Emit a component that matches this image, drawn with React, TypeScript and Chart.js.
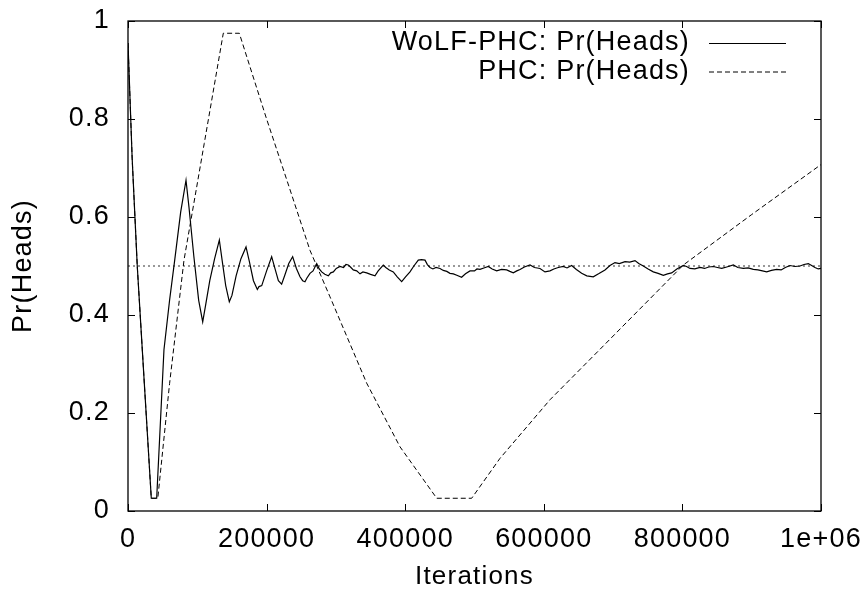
import React, { useEffect, useRef } from 'react';
import { Chart, registerables } from 'chart.js';

Chart.register(...registerables);

const FONT = '"Liberation Sans", Arial, Helvetica, sans-serif';
const LETTER_SPACING = '1.2px';

// WoLF-PHC: Pr(Heads)
const wolfIter = [
  0, 6000, 13400, 24000, 33600, 41400, 51900, 60000, 67400, 76000,
  83700, 88000, 95000, 102000, 107800, 112000, 118000, 125000, 131800, 136000,
  141000, 146200, 150000, 156000, 163000, 170300, 175000, 181000, 186600, 189000,
  193000, 200000, 207300, 212000, 217000, 221700, 226000, 232000, 237600, 243000,
  248200, 252000, 255400, 258000, 262600, 267000, 272300, 276000, 279500, 284000,
  289100, 292500, 296300, 300500, 305900, 311000, 314500, 317900, 321000, 325100,
  330000, 334800, 339000, 344400, 350000, 356400, 361000, 368400, 372000, 377000,
  382800, 388500, 394900, 400500, 406900, 412500, 418900, 423500, 428600, 432000,
  435800, 440000, 444500, 450200, 455000, 460000, 464600, 469500, 474500, 481400,
  487000, 493500, 500000, 503500, 507900, 513500, 519900, 525500, 532000, 539000,
  546500, 551000, 556000, 561000, 565700, 572000, 580100, 586500, 594500, 601700,
  608900, 614500, 620900, 628000, 633500, 640200, 647000, 654600, 662000, 671400,
  679000, 688300, 695500, 702700, 709000, 717200, 724000, 731600, 737000, 743600,
  750500, 758000, 765000, 772500, 778500, 784500, 792000, 801300, 806000, 811000,
  818000, 825400, 832000, 838000, 844600, 850500, 856700, 864000, 873500, 880000,
  887900, 895000, 902300, 909000, 915500, 921600, 928500, 936000, 942500, 948500,
  955300, 962500, 969700, 975500, 981700, 986500, 991300, 996000, 1000000,
];
const wolfProb = [
  0.955, 0.72, 0.499, 0.25, 0.026, 0.026, 0.329, 0.43, 0.512, 0.61,
  0.675, 0.62, 0.52, 0.43, 0.386, 0.42, 0.47, 0.515, 0.553, 0.51,
  0.46, 0.427, 0.44, 0.48, 0.515, 0.539, 0.51, 0.47, 0.452, 0.458,
  0.46, 0.49, 0.519, 0.495, 0.47, 0.463, 0.48, 0.505, 0.519, 0.495,
  0.478, 0.47, 0.468, 0.475, 0.485, 0.49, 0.505, 0.494, 0.488, 0.483,
  0.48, 0.486, 0.488, 0.495, 0.499, 0.497, 0.503, 0.502, 0.498, 0.492,
  0.49, 0.484, 0.488, 0.486, 0.483, 0.48, 0.49, 0.502, 0.497, 0.492,
  0.488, 0.478, 0.468, 0.478, 0.488, 0.5, 0.512, 0.513, 0.512, 0.503,
  0.497, 0.494, 0.497, 0.495, 0.491, 0.489, 0.485, 0.484, 0.481, 0.477,
  0.484, 0.49, 0.49, 0.494, 0.493, 0.496, 0.499, 0.494, 0.49, 0.493,
  0.492, 0.489, 0.486, 0.49, 0.493, 0.498, 0.502, 0.497, 0.495, 0.488,
  0.49, 0.494, 0.497, 0.499, 0.496, 0.501, 0.493, 0.485, 0.48, 0.478,
  0.484, 0.492, 0.501, 0.507, 0.505, 0.509, 0.508, 0.511, 0.505, 0.5,
  0.494, 0.488, 0.485, 0.481, 0.484, 0.486, 0.494, 0.501, 0.499, 0.495,
  0.494, 0.497, 0.495, 0.498, 0.499, 0.497, 0.495, 0.498, 0.502, 0.497,
  0.495, 0.496, 0.493, 0.492, 0.49, 0.488, 0.491, 0.493, 0.492, 0.497,
  0.501, 0.499, 0.5, 0.503, 0.505, 0.501, 0.497, 0.494, 0.495,
];

// PHC: Pr(Heads)
const phcIter = [
  0, 6000, 13400, 24000, 33600, 43000, 60000, 80800, 110000, 137500,
  160600, 200000, 230000, 262600, 291500, 344400, 392500, 445500, 495900, 536800,
  608900, 681100, 801300, 900000, 1000000,
];
const phcProb = [
  0.955, 0.72, 0.499, 0.25, 0.026, 0.026, 0.26, 0.512, 0.75, 0.975,
  0.975, 0.8, 0.672, 0.532, 0.437, 0.261, 0.131, 0.026, 0.026, 0.1075,
  0.227, 0.33, 0.502, 0.605, 0.707,
];

// Equilibrium reference line
const nashIter = [0, 1000000];
const nashProb = [0.5, 0.5];

const xTickLabels = ['0', '200000', '400000', '600000', '800000', '1e+06'];
const yTickLabels = ['0', '0.2', '0.4', '0.6', '0.8', '1'];

const seriesLabels = ['WoLF-PHC: Pr(Heads)', 'PHC: Pr(Heads)'];

const toPoints = (xs: number[], ys: number[]) => xs.map((x, i) => ({ x, y: ys[i] }));

const spacingPlugin = {
  id: 'letterSpacing',
  beforeDraw(chart: any) {
    try {
      (chart.ctx as any).letterSpacing = LETTER_SPACING;
    } catch (e) {
      /* ignore */
    }
  },
};

const framePlugin = {
  id: 'gnuplotFrame',
  afterDraw(chart: any) {
    const { ctx, chartArea, scales } = chart;
    const { left, right, top, bottom } = chartArea;
    ctx.save();
    ctx.strokeStyle = '#000';
    ctx.lineWidth = 1.3;
    ctx.setLineDash([]);
    ctx.strokeRect(left, top, right - left, bottom - top);
    const tl = 7;
    ctx.beginPath();
    scales.x.ticks.forEach((t: any) => {
      const px = Math.round(scales.x.getPixelForValue(t.value)) + 0.5;
      ctx.moveTo(px, bottom);
      ctx.lineTo(px, bottom - tl);
      ctx.moveTo(px, top);
      ctx.lineTo(px, top + tl);
    });
    scales.y.ticks.forEach((t: any) => {
      const py = Math.round(scales.y.getPixelForValue(t.value)) + 0.5;
      ctx.moveTo(left, py);
      ctx.lineTo(left + tl, py);
      ctx.moveTo(right, py);
      ctx.lineTo(right - tl, py);
    });
    ctx.lineWidth = 1;
    ctx.stroke();

    // gnuplot-style key: text right-aligned, line sample to the right
    const textRight = 690;
    const lineStart = 709;
    const lineEnd = 786;
    const rowY = [43, 71.5];
    ctx.font = `27px ${FONT}`;
    ctx.fillStyle = '#000';
    ctx.textAlign = 'right';
    ctx.textBaseline = 'middle';
    chart.data.datasets.forEach((ds: any, i: number) => {
      if (!ds.label || i >= rowY.length) return;
      const y = rowY[i];
      ctx.fillText(ds.label, textRight, y);
      ctx.beginPath();
      ctx.strokeStyle = ds.borderColor;
      ctx.lineWidth = ds.borderWidth;
      ctx.setLineDash(ds.borderDash || []);
      ctx.moveTo(lineStart, y + 0.5);
      ctx.lineTo(lineEnd, y + 0.5);
      ctx.stroke();
    });
    ctx.restore();
  },
};

export default function App() {
  const canvasRef = useRef<HTMLCanvasElement | null>(null);

  useEffect(() => {
    document.body.style.margin = '0';
    const canvas = canvasRef.current;
    if (!canvas) return;
    const chart = new Chart(canvas, {
      type: 'line',
      data: {
        datasets: [
          {
            label: seriesLabels[0],
            data: toPoints(wolfIter, wolfProb),
            borderColor: '#000',
            borderWidth: 1.2,
            borderDash: [],
            pointRadius: 0,
            tension: 0,
            fill: false,
          },
          {
            label: seriesLabels[1],
            data: toPoints(phcIter, phcProb),
            borderColor: '#000',
            borderWidth: 1,
            borderDash: [5, 3],
            pointRadius: 0,
            tension: 0,
            fill: false,
          },
          {
            label: '',
            data: toPoints(nashIter, nashProb),
            borderColor: '#777',
            borderWidth: 1.5,
            borderDash: [2, 3],
            pointRadius: 0,
            tension: 0,
            fill: false,
          },
        ],
      },
      options: {
        responsive: false,
        animation: false,
        devicePixelRatio: 1,
        layout: { padding: { top: 21, right: 44, bottom: 0, left: 0 } },
        plugins: {
          legend: { display: false },
          tooltip: { enabled: false },
        },
        scales: {
          x: {
            type: 'linear',
            min: 0,
            max: 1000000,
            grid: { display: false, drawTicks: false },
            border: { display: false },
            ticks: {
              stepSize: 200000,
              padding: 12,
              maxRotation: 0,
              autoSkip: false,
              color: '#000',
              font: { family: FONT, size: 27 },
              callback: (_v: any, i: number) => xTickLabels[i],
            },
            title: {
              display: true,
              text: 'Iterations',
              color: '#000',
              font: { family: FONT, size: 26 },
              padding: { top: 0, bottom: 4 },
            },
            afterFit: (scale: any) => {
              scale.height = 85;
              scale.paddingLeft = 0;
              scale.paddingRight = 0;
            },
          },
          y: {
            type: 'linear',
            min: 0,
            max: 1,
            grid: { display: false, drawTicks: false },
            border: { display: false },
            ticks: {
              stepSize: 0.2,
              padding: 18,
              color: '#000',
              font: { family: FONT, size: 27 },
              callback: (_v: any, i: number) => yTickLabels[i],
            },
            title: {
              display: true,
              text: 'Pr(Heads)',
              color: '#000',
              font: { family: FONT, size: 27 },
              padding: { top: 7, bottom: 0 },
            },
            afterFit: (scale: any) => {
              scale.width = 128;
              scale.paddingTop = 0;
              scale.paddingBottom = 0;
            },
          },
        },
      },
      plugins: [spacingPlugin, framePlugin],
    });
    return () => chart.destroy();
  }, []);

  return (
    <div style={{ width: 865, height: 596, background: '#fff' }}>
      <canvas ref={canvasRef} width={865} height={596} style={{ display: 'block' }} />
    </div>
  );
}
